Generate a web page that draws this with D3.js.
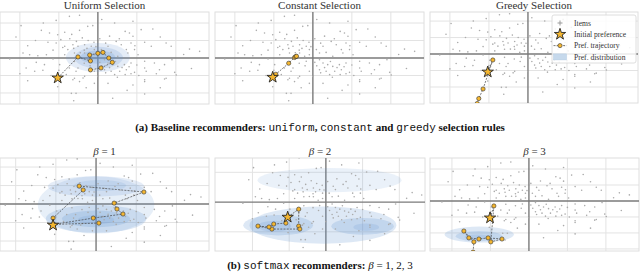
<!DOCTYPE html>
<html>
<head>
<meta charset="utf-8">
<style>
  body { margin: 0; background: #fff; }
  svg { display: block; }
  .serif { font-family: "Liberation Serif", "DejaVu Serif", serif; }
  .mono { font-family: "Liberation Mono", "DejaVu Sans Mono", monospace; }
</style>
<script src="https://d3js.org/d3.v7.min.js"></script>
</head>
<body>
<div id="chart"></div>
<script>
// item embeddings (same item set in every panel)
var itemX = [-0.73,-0.47,-1.07,-1.97,-1.45,-1.24,-1.03,-0.85,-0.67,-0.47,-0.26,-0.13,0.43,0.70,0.81,0.90,1.11,1.41,
  -1.28,-1.07,-0.85,-0.77,-0.64,-0.51,-0.34,-0.17,-0.09,0.09,0.26,0.47,0.60,0.73,0.85,0.94,1.20,1.37,1.75,1.88,2.35,2.61,
  -1.92,-1.75,-1.54,-1.32,-1.15,-0.85,-0.60,-0.34,-0.21,-0.09,0.17,0.34,0.51,0.77,1.03,
  -2.26,-1.58,-1.37,-0.98,-0.73,-0.51,-0.17,0.17,0.26,0.38,0.51,0.68,0.85,1.20,1.45,1.71,
  -1.84,-1.62,-1.41,-0.81,-0.56,-0.34,-0.09,0.17,0.34,0.56,0.73,0.94,1.20,1.24,1.58,1.97,
  -0.64,-0.38,0.00,0.43,0.85,1.20,1.71,
  -0.60,-0.47,-0.09,0.26,0.90,1.20,1.75,2.01,-1.03,-0.68,-0.56,1.20,-0.62,0.38,
  -0.95,-0.72,-0.55,-0.40,-0.25,-0.10,-0.90,-0.62,-0.35,-0.05,-1.15,-0.45,-0.28,0.05,0.30,0.55,0.20,-1.60,-1.80,-2.10,
  0.10,0.30,0.45,0.62,0.80,0.20,0.50,0.70,1.00,1.05,0.05,-0.20,-0.35,-0.60,-1.00,-1.20,1.50,1.90,2.20,0.95,1.60,-1.40,
  0.10,0.90,-0.30,0.75,1.60,-1.80,-2.00,2.40];
var itemY = [2.38,2.44,2.15,1.85,1.58,1.43,1.33,1.47,1.35,1.58,1.81,1.85,2.00,1.52,1.43,1.24,1.62,1.66,
  0.90,0.86,0.67,0.48,0.76,0.67,0.76,0.67,0.48,0.48,0.67,0.95,0.76,0.48,0.86,0.48,0.90,0.67,0.86,0.67,0.51,0.38,
  0.29,0.19,0.13,0.19,-0.06,0.19,0.29,0.29,0.10,0.19,0.29,0.32,0.10,0.29,0.19,
  -0.06,-0.25,-0.38,-0.38,-0.57,-0.57,-0.19,-0.10,-0.29,-0.38,-0.48,-0.38,-0.29,-0.19,-0.29,-0.38,
  -0.57,-0.76,-0.70,-0.95,-0.76,-1.05,-0.76,-0.67,-0.76,-0.76,-0.67,-0.82,-0.57,-0.76,-0.67,-0.82,
  -1.24,-1.14,-1.05,-0.95,-0.90,-1.24,-1.20,
  -1.16,-1.35,-1.45,-1.45,-1.54,-1.35,-1.16,-0.97,-1.64,-2.02,-2.02,-2.06,-2.44,-2.30,
  1.05,1.10,0.95,1.15,1.00,0.90,0.60,0.55,0.45,0.65,0.45,0.30,0.55,1.10,1.25,1.10,0.85,1.00,0.70,1.20,
  -0.45,-0.55,-0.20,-0.55,-0.50,-0.85,-1.10,-0.95,-0.40,-1.00,-0.25,-0.45,-0.30,-0.20,-0.70,-1.00,-0.90,-0.10,0.20,0.70,1.20,2.00,
  2.20,2.10,-1.70,-1.85,-1.70,-1.30,-0.90,-0.60];

// preference trajectories [x, y]; first point is the initial preference
var uniformPath = [[-1.03,-1.14],[-0.51,0.06],[-0.19,-0.17],[-0.21,0.17],[0.00,0.27],[0.13,0.32],[0.28,0.00],[0.37,-0.25],[0.08,-0.57],[-0.19,-0.68]];
var constantPath = [[-1.03,-1.10],[-0.95,-0.93],[-0.62,-0.30],[-0.47,0.03],[-0.44,0.08],[-0.42,0.10]];
var greedyPath = [[-1.03,-1.09],[-0.90,-0.36],[-1.15,-2.12],[-1.26,-2.70],[-1.30,-3.00],[-1.35,-3.40]];
var beta1Path = [[-1.07,-1.14],[-1.07,-0.76],[-0.32,0.76],[-0.42,0.97],[1.19,0.65],[0.45,0.05],[0.52,-0.27],[0.67,-0.54],[-0.07,-0.76],[-1.05,-1.10],[0.07,-1.03]];
var beta2Path = [[-1.04,-0.81],[-0.74,-0.38],[-0.74,-1.29],[-0.71,-1.45],[-1.47,-1.45],[-1.85,-1.29],[-1.55,-1.34],[-1.42,-1.18],[-1.09,-1.13]];
var beta3Path = [[-1.01,-1.06],[-0.91,-0.31],[-0.99,-2.56],[-0.70,-2.38],[-1.06,-2.31],[-1.30,-2.38],[-1.56,-2.31],[-1.69,-1.88],[-1.43,-2.56],[-1.45,-3.20]];

// preference distribution, as density ellipses [cx, cy, rx, ry, weight]
var uniformDist = [[0.00,0.03,0.82,0.83,0.8],[0.02,0.02,0.62,0.62,0.9],[0.00,0.05,0.45,0.38,1],[0.02,0.05,0.25,0.2,0.6]];
var constantDist = [];
var greedyDist = [];
var beta1Dist = [[0.00,-0.05,1.45,1.55,0.7],[0.00,0.95,1.2,0.55,0.8],[0.00,-0.8,1.25,0.75,1],[0.10,1.00,0.65,0.3,0.7],[0.00,-0.8,0.85,0.45,1],[0.00,-0.85,0.45,0.25,0.8]];
var beta2Dist = [[0.10,1.18,1.96,0.65,0.6],[-0.08,-1.24,2.0,1.0,1],[-1.3,-1.24,0.95,0.55,1],[1.0,-1.3,0.85,0.45,1],[-1.4,-1.3,0.45,0.3,0.8],[1.1,-1.35,0.35,0.2,0.8]];
var beta3Dist = [[-1.29,-2.1,0.9,0.5,1],[-1.3,-2.2,0.6,0.32,1],[-1.35,-2.25,0.32,0.16,0.8]];

var topTitles = ["Uniform Selection", "Constant Selection", "Greedy Selection"];
var betaValues = [1, 2, 3];
var legendLabels = ["Items", "Initial preference", "Pref. trajectory", "Pref. distribution"];

// layout of the six panels
var panels = [
  {title: topTitles[0], x0: 0, y0: 12, w: 209, h: 92, xDom: [-2.51, 2.85], yDom: [-2.63, 2.63], yTicks: [-2,-1,1,2], path: uniformPath, dist: uniformDist},
  {title: topTitles[1], x0: 215, y0: 12, w: 209, h: 92, xDom: [-2.51, 2.85], yDom: [-2.63, 2.63], yTicks: [-2,-1,1,2], path: constantPath, dist: constantDist},
  {title: topTitles[2], x0: 430, y0: 12, w: 208, h: 91, xDom: [-2.51, 2.82], yDom: [-2.97, 2.55], yTicks: [-2,-1,1,2], path: greedyPath, dist: greedyDist, legend: true},
  {beta: betaValues[0], x0: 0, y0: 158, w: 209, h: 93, xDom: [-2.39, 2.81], yDom: [-2.54, 2.49], yTicks: [-2,-1,1,2], path: beta1Path, dist: beta1Dist},
  {beta: betaValues[1], x0: 215, y0: 158, w: 210, h: 93, xDom: [-3.02, 2.7], yDom: [-2.63, 2.37], yTicks: [-1.6, 1.6], path: beta2Path, dist: beta2Dist},
  {beta: betaValues[2], x0: 430, y0: 158, w: 209, h: 93, xDom: [-2.57, 2.86], yDom: [-3.13, 2.69], yTicks: [-3,-2,-1,1,2], path: beta3Path, dist: beta3Dist}
];
var xTicks = [-2, -1, 1, 2];

var width = 640, height = 279;
var svg = d3.select("#chart").append("svg")
  .attr("width", width).attr("height", height);

var orange = "#f4b630", blue = "rgb(100,150,210)";
var star = d3.symbol().type(d3.symbolStar);
var distAlpha = d3.scaleLinear().domain([0, 1]).range([0, 0.22]);

panels.forEach(function(p, i) {
  var x = d3.scaleLinear().domain(p.xDom).range([0, p.w]);
  var y = d3.scaleLinear().domain(p.yDom).range([p.h, 0]);
  var g = svg.append("g").attr("transform", "translate(" + p.x0 + "," + p.y0 + ")");

  g.append("clipPath").attr("id", "clip" + i)
    .append("rect").attr("width", p.w).attr("height", p.h);

  // grid
  g.selectAll(".vx").data(xTicks).enter().append("line")
    .attr("x1", d => x(d)).attr("x2", d => x(d)).attr("y1", 0).attr("y2", p.h)
    .attr("stroke", "#e3e3e3").attr("stroke-width", 1);
  g.selectAll(".hy").data(p.yTicks).enter().append("line")
    .attr("y1", d => y(d)).attr("y2", d => y(d)).attr("x1", 0).attr("x2", p.w)
    .attr("stroke", "#e3e3e3").attr("stroke-width", 1);
  g.append("rect").attr("width", p.w).attr("height", p.h)
    .attr("fill", "none").attr("stroke", "#dedede").attr("stroke-width", 1);

  var c = g.append("g").attr("clip-path", "url(#clip" + i + ")");

  // zero axes
  c.append("line").attr("x1", x(0)).attr("x2", x(0)).attr("y1", 0).attr("y2", p.h)
    .attr("stroke", "#7a7a7a").attr("stroke-width", 1.4);
  c.append("line").attr("y1", y(0)).attr("y2", y(0)).attr("x1", 0).attr("x2", p.w)
    .attr("stroke", "#7a7a7a").attr("stroke-width", 1.4);

  // distribution
  c.selectAll(".dist").data(p.dist).enter().append("ellipse")
    .attr("cx", d => x(d[0])).attr("cy", d => y(d[1]))
    .attr("rx", d => Math.abs(x(d[2]) - x(0))).attr("ry", d => Math.abs(y(d[3]) - y(0)))
    .attr("fill", blue).attr("fill-opacity", d => distAlpha(d[4]));

  // items
  c.selectAll(".item").data(itemX).enter().append("circle")
    .attr("cx", d => x(d)).attr("cy", (d, j) => y(itemY[j])).attr("r", 0.8)
    .attr("fill", "#ababab");

  // trajectory
  c.append("path").datum(p.path)
    .attr("d", d3.line().x(d => x(d[0])).y(d => y(d[1])))
    .attr("fill", "none").attr("stroke", "#444").attr("stroke-width", 0.7)
    .attr("stroke-dasharray", "2,1.2");
  c.selectAll(".pt").data(p.path.slice(1)).enter().append("circle")
    .attr("cx", d => x(d[0])).attr("cy", d => y(d[1])).attr("r", 2.1)
    .attr("fill", orange).attr("stroke", "#333").attr("stroke-width", 0.6);
  c.append("path").attr("d", star.size(40)())
    .attr("transform", "translate(" + x(p.path[0][0]) + "," + y(p.path[0][1]) + ")")
    .attr("fill", orange).attr("stroke", "#222").attr("stroke-width", 0.9);

  // title
  var t = svg.append("text").attr("class", "serif")
    .attr("x", p.x0 + p.w / 2).attr("y", p.y0 - 3)
    .attr("text-anchor", "middle").attr("font-size", 11).attr("fill", "#333");
  if (p.title) {
    t.text(p.title);
  } else {
    t.append("tspan").attr("font-style", "italic").text("\u03b2");
    t.append("tspan").text(" = " + p.beta);
  }

  if (p.legend) {
    var lg = g.append("g").attr("transform", "translate(122,3)");
    lg.append("rect").attr("width", 84).attr("height", 48).attr("rx", 2)
      .attr("fill", "#fff").attr("fill-opacity", 0.85).attr("stroke", "#d6d6d6").attr("stroke-width", 0.8);
    var rowY = function(k) { return 8 + k * 11.3; };
    lg.append("path").attr("d", "M8," + (rowY(0) - 2.5) + "v5M5.5," + rowY(0) + "h5")
      .attr("stroke", "#999").attr("stroke-width", 1);
    lg.append("path").attr("d", star.size(40)())
      .attr("transform", "translate(8," + rowY(1) + ")")
      .attr("fill", orange).attr("stroke", "#222").attr("stroke-width", 0.9);
    lg.append("line").attr("x1", 1.5).attr("x2", 14.5).attr("y1", rowY(2)).attr("y2", rowY(2))
      .attr("stroke", "#444").attr("stroke-width", 0.7).attr("stroke-dasharray", "2,1.2");
    lg.append("circle").attr("cx", 8).attr("cy", rowY(2)).attr("r", 2.1)
      .attr("fill", orange).attr("stroke", "#333").attr("stroke-width", 0.6);
    lg.append("rect").attr("x", 1.5).attr("y", rowY(3) - 3).attr("width", 13).attr("height", 6)
      .attr("fill", "#c6d9ec").attr("stroke", "#b3cbe3").attr("stroke-width", 0.5);
    lg.selectAll(".lt").data(legendLabels).enter().append("text").attr("class", "serif")
      .attr("x", 22).attr("y", (d, k) => rowY(k) + 2.6)
      .attr("font-size", 7.6).attr("fill", "#333").text(d => d);
  }
});

// captions
var capA = svg.append("text").attr("class", "serif").attr("x", 320).attr("y", 131)
  .attr("text-anchor", "middle").attr("font-size", 11).attr("font-weight", "bold").attr("fill", "#111");
[["(a) Baseline recommenders: ", "serif"], ["uniform", "mono"], [", ", "serif"], ["constant", "mono"],
 [" and ", "serif"], ["greedy", "mono"], [" selection rules", "serif"]].forEach(function(s) {
  capA.append("tspan").attr("class", s[1]).attr("font-weight", s[1] === "mono" ? "normal" : "bold").text(s[0]);
});
var capB = svg.append("text").attr("class", "serif").attr("x", 320).attr("y", 269)
  .attr("text-anchor", "middle").attr("font-size", 11).attr("font-weight", "bold").attr("fill", "#111");
capB.append("tspan").text("(b) ");
capB.append("tspan").attr("class", "mono").attr("font-weight", "normal").text("softmax");
capB.append("tspan").text(" recommenders: ");
capB.append("tspan").attr("font-style", "italic").attr("font-weight", "normal").text("\u03b2");
capB.append("tspan").attr("font-weight", "normal").text(" = 1, 2, 3");
</script>
</body>
</html>
